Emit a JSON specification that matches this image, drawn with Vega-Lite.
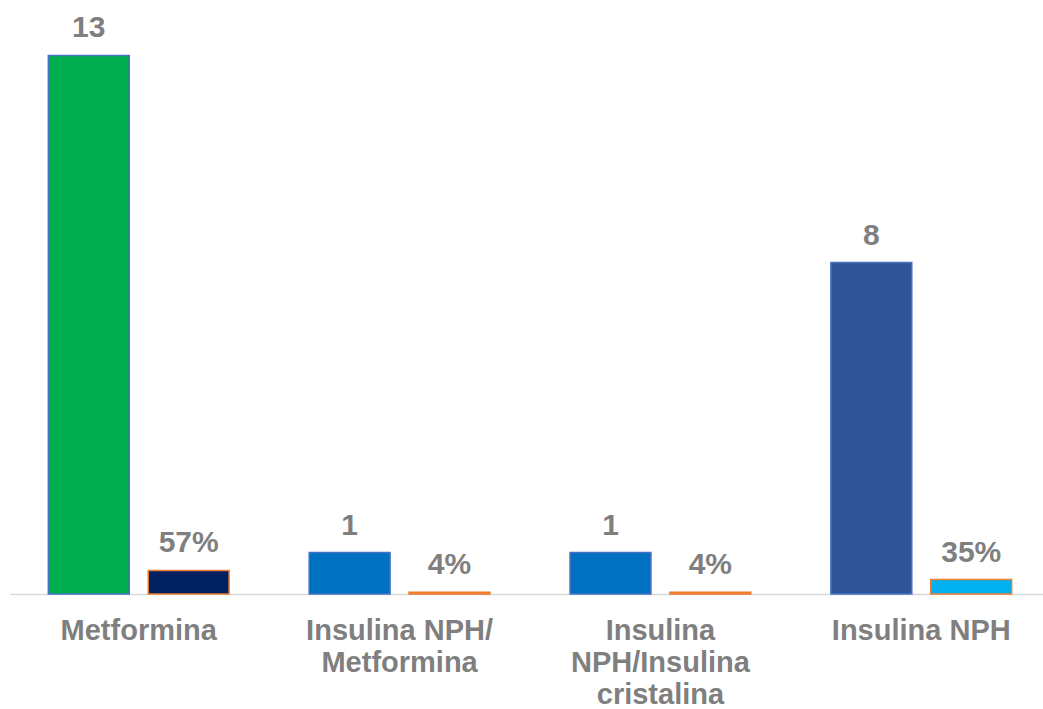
{
  "$schema": "https://vega.github.io/schema/vega-lite/v6.json",
  "autosize": "none",
  "width": 1040,
  "height": 580,
  "padding": {"left": 10, "top": 14, "right": 0, "bottom": 115},
  "background": "white",
  "config": {
    "view": {"stroke": null},
    "font": "Liberation Sans"
  },
  "data": {
    "values": [
      {"categoria": "Metformina", "serie": "n", "valor": 13},
      {"categoria": "Metformina", "serie": "pct", "valor": 0.57},
      {"categoria": "Insulina NPH/Metformina", "serie": "n", "valor": 1},
      {"categoria": "Insulina NPH/Metformina", "serie": "pct", "valor": 0.04},
      {"categoria": "Insulina NPH/Insulina cristalina", "serie": "n", "valor": 1},
      {"categoria": "Insulina NPH/Insulina cristalina", "serie": "pct", "valor": 0.04},
      {"categoria": "Insulina NPH", "serie": "n", "valor": 8},
      {"categoria": "Insulina NPH", "serie": "pct", "valor": 0.35}
    ]
  },
  "transform": [
    {"calculate": "datum.categoria + ' | ' + datum.serie", "as": "barra"},
    {"calculate": "datum.serie == 'pct' ? format(datum.valor, '.0%') : format(datum.valor, 'd')", "as": "etiqueta"}
  ],
  "encoding": {
    "x": {
      "field": "categoria",
      "type": "nominal",
      "sort": ["Metformina", "Insulina NPH/Metformina", "Insulina NPH/Insulina cristalina", "Insulina NPH"],
      "scale": {"paddingInner": 0.307, "paddingOuter": 0.147},
      "axis": {
        "title": null,
        "labelAngle": 0,
        "ticks": false,
        "domainColor": "#D9D9D9",
        "domainWidth": 1.5,
        "labelFont": "Liberation Sans",
        "labelFontSize": 29,
        "labelFontWeight": "bold",
        "labelColor": "#7F7F7F",
        "labelPadding": 22,
        "labelLineHeight": 32,
        "labelLimit": 400,
        "labelBaseline": "top",
        "labelExpr": "datum.value == 'Insulina NPH/Metformina' ? ['Insulina NPH/', 'Metformina'] : datum.value == 'Insulina NPH/Insulina cristalina' ? ['Insulina', 'NPH/Insulina', 'cristalina'] : datum.value"
      }
    },
    "xOffset": {
      "field": "serie",
      "type": "nominal",
      "sort": ["n", "pct"],
      "scale": {"paddingInner": 0.19}
    },
    "y": {
      "field": "valor",
      "type": "quantitative",
      "scale": {"domain": [0, 14], "nice": false},
      "axis": null
    }
  },
  "layer": [
    {
      "mark": {"type": "bar", "strokeWidth": 1.5},
      "encoding": {
        "color": {
          "field": "barra",
          "type": "nominal",
          "legend": null,
          "scale": {
            "domain": [
              "Metformina | n", "Metformina | pct",
              "Insulina NPH/Metformina | n", "Insulina NPH/Metformina | pct",
              "Insulina NPH/Insulina cristalina | n", "Insulina NPH/Insulina cristalina | pct",
              "Insulina NPH | n", "Insulina NPH | pct"
            ],
            "range": ["#00B050", "#002060", "#0070C0", "#ED7D31", "#0070C0", "#ED7D31", "#2F5597", "#00B0F0"]
          }
        },
        "stroke": {
          "field": "serie",
          "type": "nominal",
          "legend": null,
          "scale": {"domain": ["n", "pct"], "range": ["#4472C4", "#ED7D31"]}
        }
      }
    },
    {
      "mark": {
        "type": "text",
        "baseline": "alphabetic",
        "dy": -18,
        "font": "Liberation Sans",
        "fontSize": 30,
        "fontWeight": "bold",
        "color": "#7F7F7F"
      },
      "encoding": {
        "text": {"field": "etiqueta", "type": "nominal"}
      }
    }
  ]
}
